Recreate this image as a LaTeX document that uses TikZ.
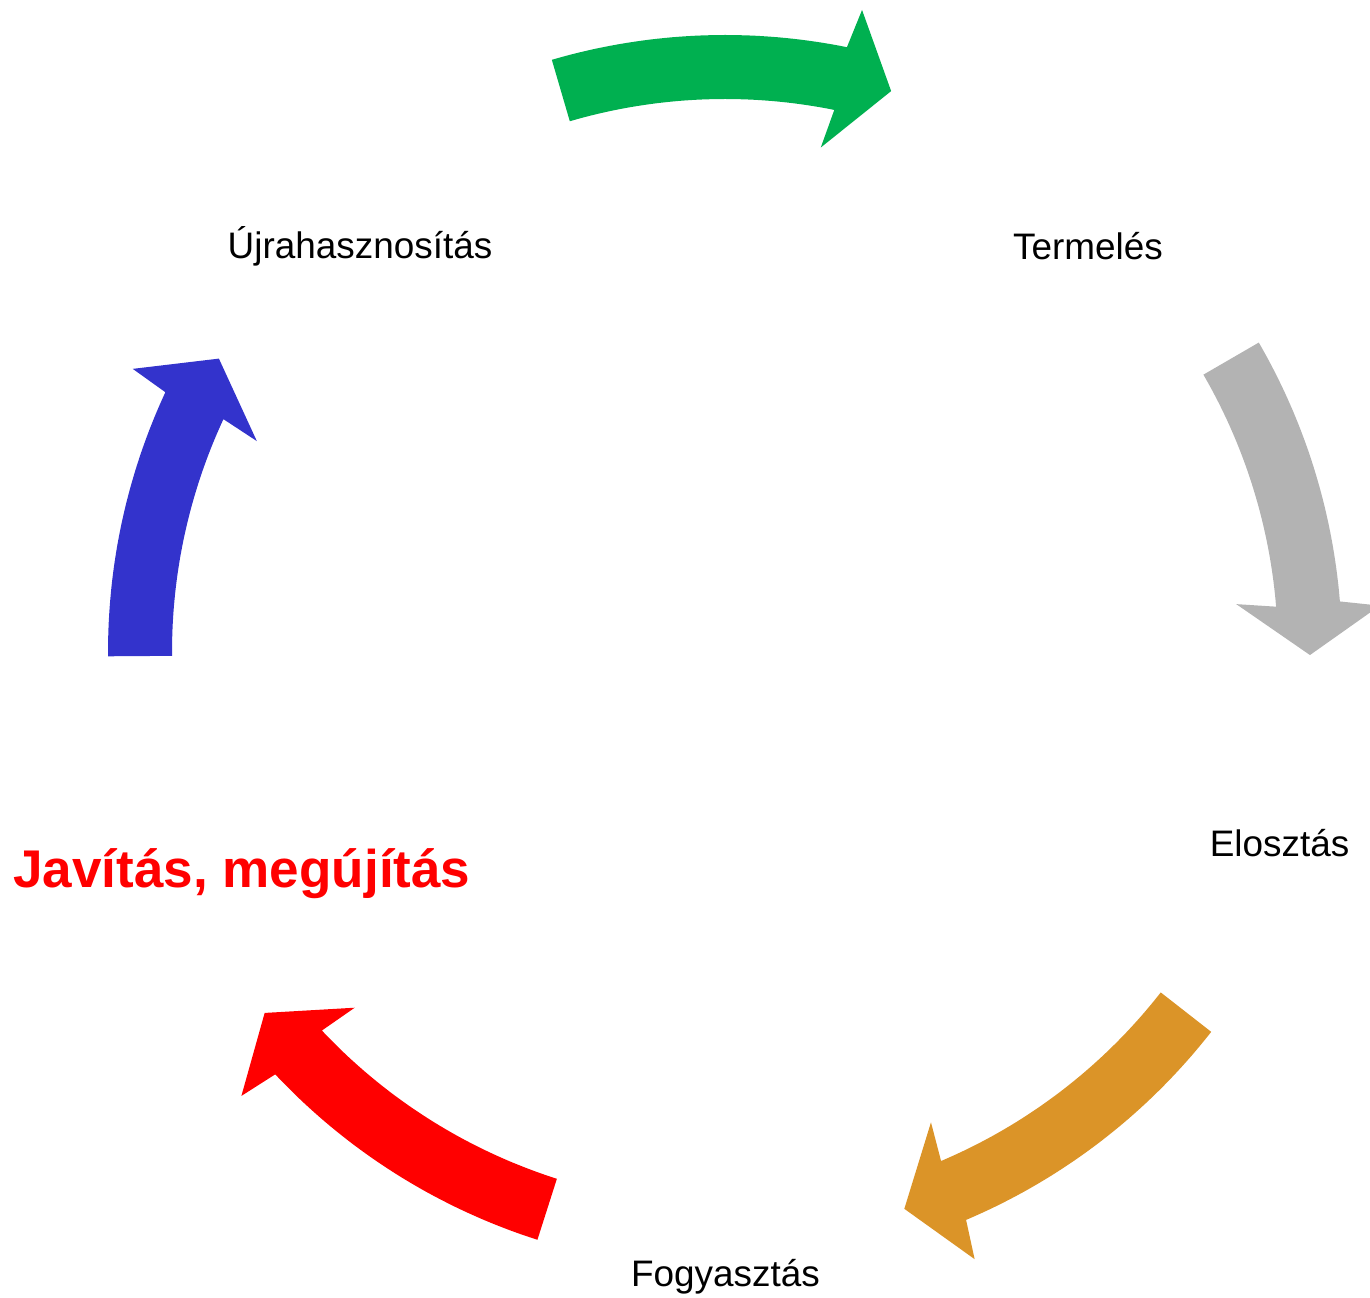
\documentclass[tikz,border=0pt]{standalone}
\usepackage{fontspec}
\setmainfont{Liberation Sans}
\definecolor{cgreen}{RGB}{0,176,80}
\definecolor{cgray}{RGB}{179,179,179}
\definecolor{corange}{RGB}{219,148,40}
\definecolor{cred}{RGB}{255,0,0}
\definecolor{cblue}{RGB}{51,51,204}
\def\Rm{585}\def\Ro{617}\def\Ri{553}\def\Rbo{656.5}\def\Rbi{513.5}
\newcommand\cycarrow[4]{% colour, tail angle, head-base angle, tip angle
  \fill[#1] (#2:\Ro) -- plot[domain=#2:#3, samples=40] (\x:\Ro)
    -- ({#3-0.65}:\Rbo) -- (#4:\Rm) -- ({#3+0.65}:\Rbi) -- (#3:\Ri)
    -- plot[domain=#3:#2, samples=40] (\x:\Ri) -- cycle;}
\tikzset{lbl/.style={anchor=base, inner sep=0pt, font=\fontsize{21pt}{24pt}\selectfont},
  redlbl/.style={anchor=base, inner sep=0pt, text=cred, font=\fontsize{30.2pt}{34pt}\selectfont\bfseries}}
\begin{document}
\begin{tikzpicture}[x=0.02cm, y=0.02cm]
\useasboundingbox (0,0) rectangle (1370,1298);
\clip (0,0) rectangle (1370,1298);
\begin{scope}[shift={(725,646)}]
  \cycarrow{cgreen}{106.3}{78.6}{73.5}
  \cycarrow{cgray}{30.1}{4.7}{-0.3}
  \cycarrow{corange}{-38}{-67}{-72.15}
  \cycarrow{cred}{-107.7}{-136.8}{-141.9}
  \cycarrow{cblue}{180.4}{155.1}{149.9}
\end{scope}
\node[lbl] (ujra) at (360,1298-259) {Újrahasznosítás};
\node[lbl] (term) at (1088,1298-260) {Termelés};
\node[lbl] (elo) at (1279.5,1298-857) {Elosztás};
\node[lbl] (fogy) at (725.5,1298-1287) {Fogyasztás};
\node[redlbl] (jav) at (242,1298-888) {Javítás, megújítás};
\end{tikzpicture}
\end{document}
